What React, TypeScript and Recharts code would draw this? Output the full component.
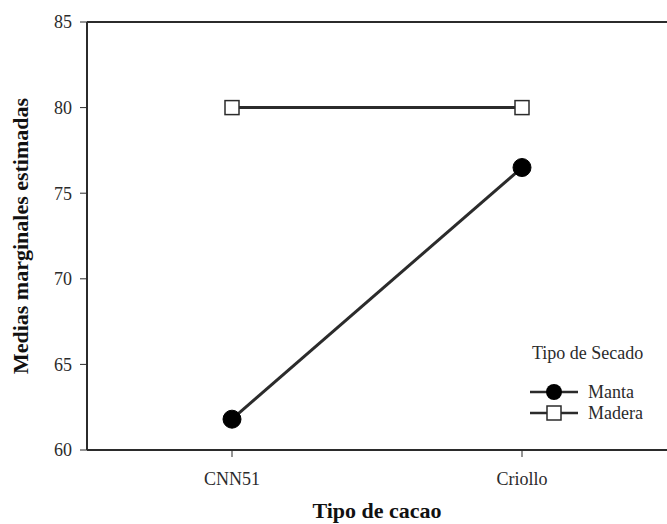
import React from 'react';
import { LineChart, Line, XAxis, YAxis, Legend, ReferenceLine } from 'recharts';

const categories = ['CNN51', 'Criollo'];
const manta = [61.8, 76.5];
const madera = [80, 80];
const yTicks = [60, 65, 70, 75, 80, 85];
const seriesOrder = ['Manta', 'Madera'];

const data = categories.map((name, i) => ({ name, Manta: manta[i], Madera: madera[i] }));

const FONT = '"Liberation Serif", "Times New Roman", serif';
const INK = '#2b2b2b';

function SquareDot(props: any) {
  const { cx, cy } = props;
  if (cx == null || cy == null) return null;
  return <rect x={cx - 7} y={cy - 7} width={14} height={14} fill="#fff" stroke={INK} strokeWidth={1.5} />;
}

function LegendBox(props: any) {
  const payload = [...(props.payload || [])].sort(
    (a: any, b: any) => seriesOrder.indexOf(a.value) - seriesOrder.indexOf(b.value)
  );
  return (
    <svg width={142} height={92} style={{ fontFamily: FONT, display: 'block' }}>
      <text x={7} y={24} fontSize={18} fill={INK}>Tipo de Secado</text>
      {payload.map((p: any, i: number) => {
        const cy = 57 + i * 21;
        return (
          <g key={p.value}>
            <line x1={5} x2={53} y1={cy} y2={cy} stroke={INK} strokeWidth={2.5} />
            {p.value === 'Manta' ? (
              <circle cx={29} cy={cy} r={8} fill="#000" />
            ) : (
              <rect x={22} y={cy - 7} width={14} height={14} fill="#fff" stroke={INK} strokeWidth={1.5} />
            )}
            <text x={63} y={cy + 6} fontSize={18} fill={INK}>{p.value}</text>
          </g>
        );
      })}
    </svg>
  );
}

export default function App() {
  return (
    <div style={{ width: 667, height: 524, position: 'relative', background: '#fff' }}>
      <style>{'body{margin:0}'}</style>
      <LineChart
        width={667}
        height={524}
        data={data}
        margin={{ top: 22, right: 0, left: 0, bottom: 0 }}
        style={{ fontFamily: FONT }}
      >
        <XAxis
          dataKey="name"
          scale="band"
          height={74}
          tickSize={7}
          tickMargin={15}
          tick={{ fill: INK, fontSize: 18 }}
          axisLine={{ stroke: INK, strokeWidth: 2 }}
          tickLine={{ stroke: INK }}
          label={{
            value: 'Tipo de cacao',
            position: 'insideBottom',
            offset: 6,
            style: { fill: '#111', fontSize: 22, fontWeight: 'bold' },
          }}
        />
        <YAxis
          domain={[60, 85]}
          ticks={yTicks}
          width={87}
          tickSize={7}
          tickMargin={8}
          tick={{ fill: INK, fontSize: 18 }}
          axisLine={{ stroke: INK, strokeWidth: 2 }}
          tickLine={{ stroke: INK }}
          label={{
            value: 'Medias marginales estimadas',
            angle: -90,
            position: 'insideLeft',
            offset: 20,
            style: { fill: '#111', fontSize: 22, fontWeight: 'bold', textAnchor: 'middle' },
          }}
        />
        <ReferenceLine y={85} stroke={INK} strokeWidth={2} />
        <Line
          dataKey="Manta"
          stroke={INK}
          strokeWidth={3}
          dot={{ r: 9, fill: '#000', stroke: '#000', strokeWidth: 1 }}
          isAnimationActive={false}
        />
        <Line
          dataKey="Madera"
          stroke={INK}
          strokeWidth={3}
          dot={<SquareDot />}
          isAnimationActive={false}
        />
        <Legend
          layout="horizontal"
          verticalAlign="middle"
          align="center"
          content={<LegendBox />}
          wrapperStyle={{ position: 'absolute', left: 525, top: 335, width: 142 }}
        />
      </LineChart>
    </div>
  );
}
